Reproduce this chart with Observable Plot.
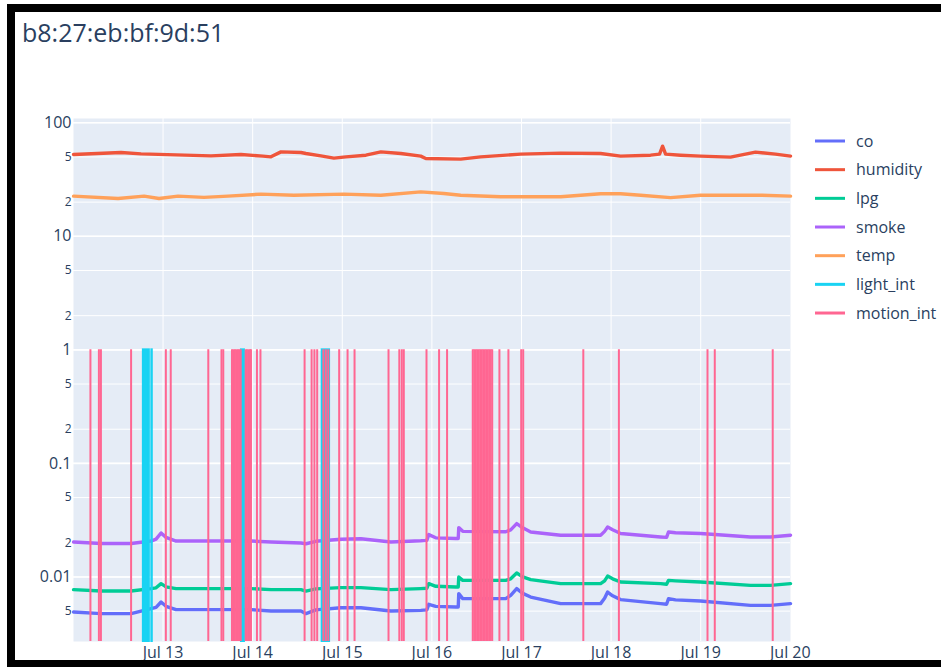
<!DOCTYPE html>
<html>
<head>
<meta charset="utf-8">
<script src="https://cdn.jsdelivr.net/npm/d3@7"></script>
<script src="https://cdn.jsdelivr.net/npm/@observablehq/plot@0.6"></script>
<style>
  body { margin: 0; background: #fff; font-family: "Open Sans", sans-serif; }
  #wrap { position: relative; width: 941px; height: 667px; overflow: hidden; background: #fff; }
  #chart { position: absolute; left: 0; top: 0; }
  #title { position: absolute; left: 22px; top: 20px; font-size: 25px; line-height: 25px; color: #2a3f5f; white-space: nowrap; }
  #legend { position: absolute; left: 800px; top: 120px; }
  #frame { position: absolute; left: 7px; top: 4px; width: 1000px; height: 663px; box-sizing: border-box;
           border-left: 8px solid #000; border-top: 8px solid #000; border-bottom: 7px solid #000; pointer-events: none; }
</style>
</head>
<body>
<div id="wrap">
  <div id="chart"></div>
  <div id="title">b8:27:eb:bf:9d:51</div>
  <svg id="legend" width="141" height="220"></svg>
  <div id="frame"></div>
</div>
<script>
// ---- data (hours after 2020-07-12 00:00 UTC) ----
const seriesNames = ["co", "humidity", "lpg", "smoke", "temp", "light_int", "motion_int"];

const gasHours = [0.03, 7.41, 15.44, 20.79, 22.13, 23.47, 24.80, 27.48, 47.55, 52.90, 60.93, 62.27, 64.94, 71.63, 76.98, 85.01, 93.03, 94.64, 95.17, 97.04, 102.40, 103.06, 103.20, 104.27, 115.78, 117.11, 118.72, 120.33, 122.47, 130.49, 141.19, 142.26, 143.07, 144.41, 146.55, 157.25, 158.86, 159.39, 161.26, 167.95, 181.33, 186.68, 192.06];
const co = [0.00491, 0.00475, 0.00475, 0.00526, 0.00540, 0.00601, 0.00551, 0.00515, 0.00515, 0.00501, 0.00501, 0.00475, 0.00513, 0.00536, 0.00536, 0.00501, 0.00508, 0.00513, 0.00574, 0.00551, 0.00543, 0.00543, 0.00713, 0.00644, 0.00644, 0.00688, 0.00789, 0.00717, 0.00665, 0.00582, 0.00582, 0.00648, 0.00736, 0.00682, 0.00631, 0.00582, 0.00574, 0.00644, 0.00628, 0.00613, 0.00562, 0.00562, 0.00582];
const lpg = [0.00773, 0.00751, 0.00751, 0.00789, 0.00802, 0.00873, 0.00818, 0.00789, 0.00789, 0.00773, 0.00773, 0.00751, 0.00785, 0.00805, 0.00805, 0.00773, 0.00789, 0.00794, 0.00873, 0.00827, 0.00815, 0.00815, 0.00998, 0.00933, 0.00933, 0.00962, 0.01083, 0.01002, 0.00947, 0.00873, 0.00873, 0.00924, 0.01018, 0.00962, 0.00902, 0.00873, 0.00861, 0.00933, 0.00924, 0.00902, 0.00843, 0.00843, 0.00873];
const smoke = [0.0203, 0.0197, 0.0197, 0.0207, 0.0215, 0.0244, 0.0223, 0.0207, 0.0207, 0.0203, 0.0199, 0.0196, 0.0206, 0.0215, 0.0217, 0.0203, 0.0208, 0.0210, 0.0236, 0.0221, 0.0218, 0.0218, 0.0272, 0.0252, 0.0250, 0.0260, 0.0295, 0.0271, 0.0249, 0.0233, 0.0233, 0.0252, 0.0275, 0.0260, 0.0241, 0.0225, 0.0223, 0.0249, 0.0245, 0.0241, 0.0225, 0.0225, 0.0233];

const humHours = [0.03, 12.76, 18.11, 27.48, 36.84, 44.87, 50.75, 52.90, 55.57, 60.93, 62.27, 66.28, 69.76, 72.97, 78.33, 82.34, 87.69, 93.03, 94.37, 103.73, 109.08, 119.79, 130.49, 141.19, 146.55, 154.57, 156.98, 157.79, 158.59, 162.60, 167.95, 175.98, 182.67, 188.02, 192.06];
const humidity = [52.6, 54.7, 53.2, 52.1, 51.1, 52.6, 50.8, 50.1, 55.4, 54.7, 53.6, 51.1, 48.8, 50.1, 51.8, 55.4, 53.6, 50.8, 48.5, 47.8, 50.1, 52.9, 54.0, 53.6, 50.8, 51.8, 52.9, 62.2, 52.9, 51.8, 50.8, 49.8, 55.1, 52.9, 50.8];

const tempHours = [0.03, 11.96, 18.92, 22.93, 28.01, 34.97, 41.39, 50.22, 59.05, 72.43, 82.34, 93.03, 99.19, 103.73, 114.44, 130.49, 141.19, 146.55, 151.90, 159.92, 167.95, 184.00, 192.06];
const temp = [22.6, 21.5, 22.6, 21.5, 22.6, 22.0, 22.6, 23.5, 23.0, 23.5, 23.0, 24.6, 23.8, 23.0, 22.3, 22.3, 23.7, 23.7, 23.0, 21.9, 23.0, 23.0, 22.6];

const lightStart = [18.73, 21.00, 45.00, 66.62];
const lightEnd   = [20.33, 21.12, 45.80, 68.60];

const motionHours = [4.55, 6.82, 7.36, 15.44, 24.75, 26.06, 36.12, 39.65, 40.13,
  42.46, 42.86, 43.26, 43.67, 44.07, 44.47, 44.80, 46.13, 46.47, 46.88, 47.28, 47.55,
  49.15, 50.09, 61.91, 63.79, 64.54, 65.28, 66.94, 67.61, 68.28, 71.17, 73.42, 75.29,
  84.39, 87.28, 87.95, 88.48, 94.56, 97.93, 100.07,
  106.95, 107.35, 107.75, 108.15, 108.55, 108.96, 109.36, 109.76, 110.16, 110.56, 110.96, 111.36, 111.76, 112.16,
  114.09, 116.50, 119.92, 120.46, 136.56, 146.09, 169.82, 171.77, 187.29];

const majorTicks = [0.01, 0.1, 1, 10, 100];
const minorTicks = [0.005, 0.02, 0.05, 0.2, 0.5, 2, 5, 20, 50];
const minorLabels = ["5", "2", "5", "2", "5", "2", "5", "2", "5"];
const dayTicks = [13, 14, 15, 16, 17, 18, 19, 20];

// ---- build ----
const T0 = Date.UTC(2020, 6, 12, 0, 0);
const toDate = h => new Date(T0 + h * 3600e3);
const colors = {co: "#636EFA", humidity: "#EF553B", lpg: "#00CC96", smoke: "#AB63FA", temp: "#FFA15A", light_int: "#19D3F3", motion_int: "#FF6692"};
const yMin = 0.0027, yMax = 109;

const pts = (hours, vals) => hours.map((h, i) => ({t: toDate(h), v: vals[i]}));
const coData = pts(gasHours, co), lpgData = pts(gasHours, lpg), smokeData = pts(gasHours, smoke);
const humData = pts(humHours, humidity), tempData = pts(tempHours, temp);
const lightData = lightStart.map((s, i) => ({a: toDate(s), b: toDate(lightEnd[i])}));
const motionData = motionHours.map(h => ({t: toDate(h)}));
const days = dayTicks.map(d => new Date(Date.UTC(2020, 6, d)));
const minorData = minorTicks.map((v, i) => ({v, label: minorLabels[i]}));

const lineOpts = c => ({x: "t", y: "v", stroke: colors[c], strokeWidth: 3.4, curve: "linear", strokeLinejoin: "round"});

const chart = Plot.plot({
  width: 830, height: 667,
  marginLeft: 73, marginRight: 40, marginTop: 118, marginBottom: 26,
  style: {background: "transparent", fontFamily: "Open Sans, sans-serif"},
  x: {type: "utc", domain: [new Date(Date.UTC(2020, 6, 12, 0, 1)), new Date(Date.UTC(2020, 6, 20, 0, 3))]},
  y: {type: "log", domain: [yMin, yMax], axis: null},
  marks: [
    Plot.frame({fill: "#E5ECF6", stroke: null}),
    Plot.gridY([...majorTicks, ...minorTicks], {stroke: "white", strokeOpacity: 1, strokeWidth: 1}),
    Plot.gridY(majorTicks, {stroke: "white", strokeOpacity: 1, strokeWidth: 1.6}),
    Plot.gridX(days.slice(0, -1), {stroke: "white", strokeOpacity: 1, strokeWidth: 1}),
    Plot.text(majorTicks, {y: d => d, text: d => String(d), frameAnchor: "left", textAnchor: "end", dx: -2, fontSize: 16, fill: "#2a3f5f"}),
    Plot.text(minorData, {y: "v", text: "label", frameAnchor: "left", textAnchor: "end", dx: -2, fontSize: 12, fill: "#2a3f5f"}),
    Plot.axisX(days, {tickSize: 0, tickPadding: 5, fontSize: 16, fill: "#2a3f5f", tickFormat: d3.utcFormat("%b %-d"), label: null}),
    Plot.line(coData, lineOpts("co")),
    Plot.line(humData, lineOpts("humidity")),
    Plot.line(lpgData, lineOpts("lpg")),
    Plot.line(smokeData, lineOpts("smoke")),
    Plot.line(tempData, lineOpts("temp")),
    Plot.rect(lightData, {x1: "a", x2: "b", y1: yMin, y2: 1, fill: colors.light_int, stroke: colors.light_int, strokeWidth: 2}),
    Plot.ruleX(motionData, {x: "t", y1: yMin, y2: 1, stroke: colors.motion_int, strokeWidth: 2})
  ]
});
document.getElementById("chart").appendChild(chart);

// ---- legend ----
const leg = d3.select("#legend");
seriesNames.forEach((n, i) => {
  const y = 21 + i * 28.67;
  leg.append("line").attr("x1", 15).attr("x2", 45).attr("y1", y).attr("y2", y)
    .attr("stroke", colors[n]).attr("stroke-width", 3);
  leg.append("text").attr("x", 56).attr("y", y).attr("dy", "0.35em")
    .attr("font-family", "Open Sans, sans-serif").attr("font-size", 16).attr("fill", "#2a3f5f").text(n);
});
</script>
</body>
</html>
